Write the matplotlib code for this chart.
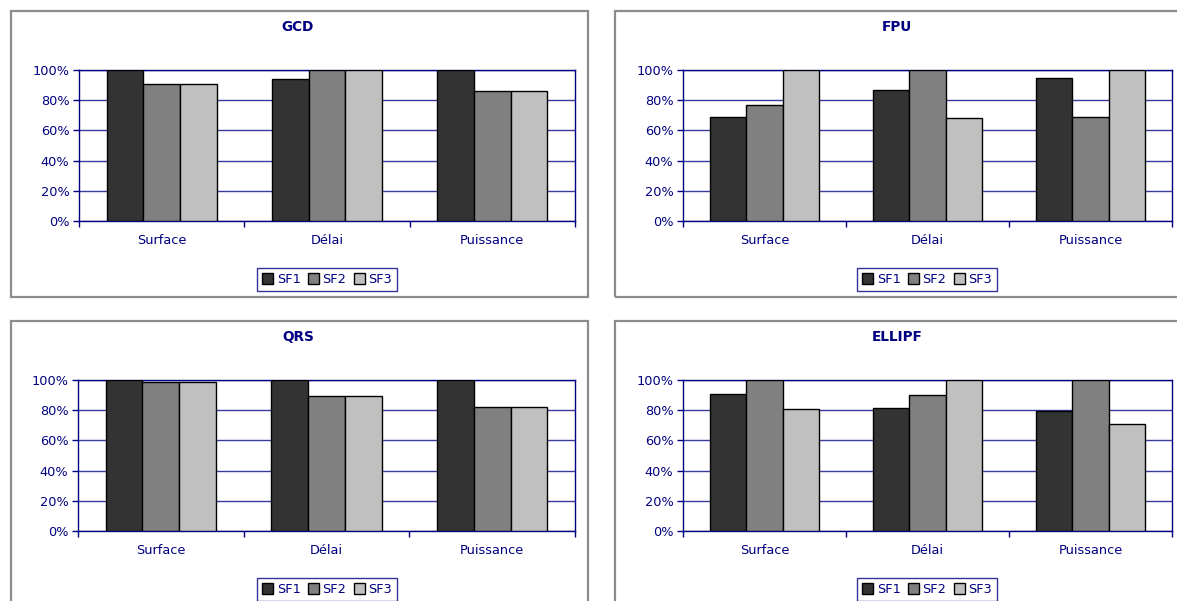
import matplotlib
matplotlib.use("Agg")
import matplotlib.pyplot as plt
from matplotlib.patches import Rectangle
from matplotlib.ticker import FuncFormatter
import numpy as np

categories = ["Surface", "Délai", "Puissance"]
series_names = ["SF1", "SF2", "SF3"]
titles = ["GCD", "FPU", "QRS", "ELLIPF"]

gcd_sf1 = [100, 94, 100]
gcd_sf2 = [91, 100, 86]
gcd_sf3 = [91, 100, 86]

fpu_sf1 = [69, 87, 95]
fpu_sf2 = [77, 100, 69]
fpu_sf3 = [100, 68, 100]

qrs_sf1 = [100, 100, 100]
qrs_sf2 = [98.4, 89.3, 82.4]
qrs_sf3 = [98.4, 89.3, 82.4]

ellipf_sf1 = [91, 81.6, 79.8]
ellipf_sf2 = [100, 90, 100]
ellipf_sf3 = [80.7, 100, 71.1]

data = [
    [gcd_sf1, gcd_sf2, gcd_sf3],
    [fpu_sf1, fpu_sf2, fpu_sf3],
    [qrs_sf1, qrs_sf2, qrs_sf3],
    [ellipf_sf1, ellipf_sf2, ellipf_sf3],
]

colors = ["#333333", "#808080", "#C0C0C0"]
NAVY = "#000080"
GRID = "#3a3aa0"
FS = 9.3

W, H = 1177, 601
DPI = 100
fig = plt.figure(figsize=(W / DPI, H / DPI), dpi=DPI)
fig.patch.set_facecolor("white")
plt.rcParams["font.family"] = "DejaVu Sans"


def frect(x0, y0, x1, y1):
    return [x0 / W, 1 - y1 / H, (x1 - x0) / W, (y1 - y0) / H]


boxes = [(10.5, 10.5, 587.5, 297), (614.5, 10.5, 1190, 297),
         (10.5, 321, 587.5, 620), (614.5, 321, 1190, 620)]
plots = [(79, 70, 575, 221), (683, 70, 1172, 221),
         (78, 380, 575, 531), (683, 380, 1172, 531)]
title_pos = [(298, 27), (897, 27), (298, 337), (897, 337)]
legend_pos = [(327, 279.5), (927, 279.5), (327, 589.5), (927, 589.5)]

for i in range(4):
    bx = boxes[i]
    fig.patches.append(Rectangle((bx[0] / W, 1 - bx[3] / H), (bx[2] - bx[0]) / W,
                                 (bx[3] - bx[1]) / H, transform=fig.transFigure,
                                 fill=False, edgecolor="#8c8c8c", linewidth=1.6))
    ax = fig.add_axes(frect(*plots[i]))
    x = np.arange(len(categories))
    bw = 1 / 4.5
    handles = []
    for s in range(3):
        h = ax.bar(x + (s - 1) * bw, data[i][s], width=bw, color=colors[s],
                   edgecolor="black", linewidth=1.0, zorder=3, label=series_names[s])
        handles.append(h)
    ax.set_xlim(-0.5, 2.5)
    ax.set_ylim(0, 100)
    ax.set_yticks([0, 20, 40, 60, 80, 100])
    ax.yaxis.set_major_formatter(FuncFormatter(lambda v, p: f"{int(v)}%"))
    ax.yaxis.grid(True, color=GRID, linewidth=1.0, zorder=0)
    ax.set_axisbelow(True)
    ax.set_xticks([-0.5, 0.5, 1.5, 2.5])
    ax.set_xticklabels([])
    ax.set_xticks(x, minor=True)
    ax.set_xticklabels(categories, minor=True)
    ax.tick_params(axis="x", which="major", direction="out", length=4, color=NAVY, width=1)
    ax.tick_params(axis="x", which="minor", length=0, pad=9, labelcolor=NAVY, labelsize=FS)
    ax.tick_params(axis="y", direction="out", length=4, color=NAVY, width=1,
                   labelcolor=NAVY, labelsize=FS, pad=3)
    for sp in ax.spines.values():
        sp.set_color(NAVY)
        sp.set_linewidth(1.0)
    tx, ty = title_pos[i]
    fig.text(tx / W, 1 - ty / H, titles[i], ha="center", va="center",
             color=NAVY, fontsize=9.8, fontweight="bold")
    lx, ly = legend_pos[i]
    leg = fig.legend(handles=handles, labels=series_names, loc="center",
                     bbox_to_anchor=(lx / W, 1 - ly / H), ncol=3, frameon=True,
                     fancybox=False, fontsize=FS, handlelength=0.85, handleheight=0.85,
                     handletextpad=0.3, columnspacing=0.55, borderpad=0.4,
                     borderaxespad=0)
    leg.get_frame().set_edgecolor(NAVY)
    leg.get_frame().set_linewidth(1.0)
    for t in leg.get_texts():
        t.set_color(NAVY)

fig.savefig("out.png", dpi=DPI, facecolor="white")
